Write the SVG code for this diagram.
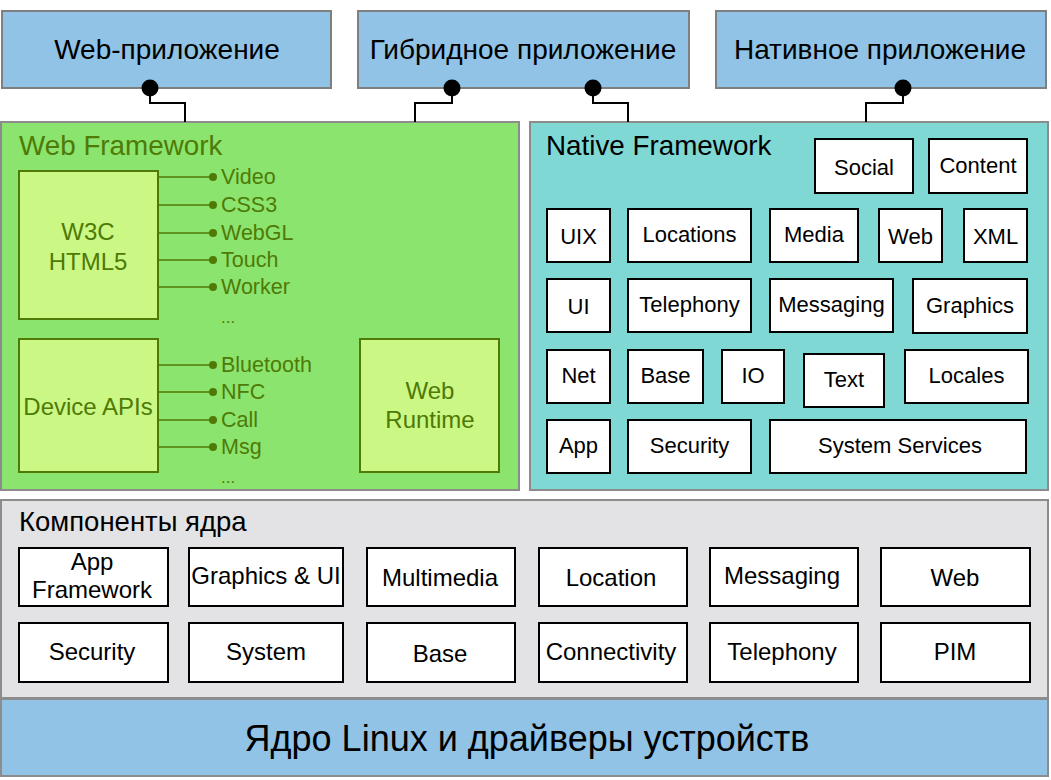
<svg xmlns="http://www.w3.org/2000/svg" width="1051" height="780" viewBox="0 0 1051 780">
<style>
text{font-family:"Liberation Sans",Arial,sans-serif;fill:#000}
.app{fill:#90c3e6;stroke:#7f7f7f;stroke-width:2}
.apptxt{font-size:28px;text-anchor:middle}
.wf{fill:#8ae46d;stroke:#8c8c8c;stroke-width:2}
.nf{fill:#7fd8d3;stroke:#8c8c8c;stroke-width:2}
.kc{fill:#e3e3e5;stroke:#8c8c8c;stroke-width:2}
.lx{fill:#90c3e6;stroke:#8c8c8c;stroke-width:2}
.gbox{fill:#cbf784;stroke:#4f7a06;stroke-width:2}
.gtxt{fill:#4f7a06;font-size:24px;text-anchor:middle}
.glab{fill:#4f7a06;font-size:21.5px}
.gline{stroke:#4f7a06;stroke-width:1.5;fill:none}
.gdot{fill:#4f7a06}
.title{font-size:27.8px}
.wbox{fill:#fff;stroke:#000;stroke-width:2}
.ntxt{font-size:22px;text-anchor:middle}
.ktxt{font-size:24px;text-anchor:middle}
.conn{stroke:#000;stroke-width:2;fill:none}
</style>

<g id="web-app"><rect class="app" x="2" y="11" width="329" height="77"/><text class="apptxt" x="167" y="59">Web-приложение</text></g>
<g id="hybrid-app"><rect class="app" x="358" y="11" width="331" height="77"/><text class="apptxt" x="523" y="59">Гибридное приложение</text></g>
<g id="native-app"><rect class="app" x="716" y="11" width="330" height="77"/><text class="apptxt" x="880" y="59">Нативное приложение</text></g>

<g id="web-framework">
<rect class="wf" x="1" y="122" width="518" height="368"/>
<text class="title" x="19" y="155" style="fill:#4f7a06">Web Framework</text>
</g>
<g id="w3c-html5"><rect class="gbox" x="19" y="171" width="139" height="148"/><text class="gtxt" x="88" y="240">W3C</text><text class="gtxt" x="88" y="270">HTML5</text></g>
<g id="html5-features">
<path class="gline" d="M158 177H213M158 205H213M158 233H213M158 260H213M158 287H213"/>
<circle class="gdot" cx="213" cy="177" r="4"/><circle class="gdot" cx="213" cy="205" r="4"/><circle class="gdot" cx="213" cy="233" r="4"/><circle class="gdot" cx="213" cy="260" r="4"/><circle class="gdot" cx="213" cy="287" r="4"/>
<text class="glab" x="221" y="184">Video</text><text class="glab" x="221" y="212">CSS3</text><text class="glab" x="221" y="240">WebGL</text><text class="glab" x="221" y="267">Touch</text><text class="glab" x="221" y="294">Worker</text><text class="glab" x="221" y="323" style="font-size:17px">...</text>
</g>
<g id="device-apis"><rect class="gbox" x="19" y="339" width="139" height="133"/><text class="gtxt" x="88" y="415">Device APIs</text></g>
<g id="device-features">
<path class="gline" d="M158 365H213M158 392H213M158 420H213M158 447H213"/>
<circle class="gdot" cx="213" cy="365" r="4"/><circle class="gdot" cx="213" cy="392" r="4"/><circle class="gdot" cx="213" cy="420" r="4"/><circle class="gdot" cx="213" cy="447" r="4"/>
<text class="glab" x="221" y="372">Bluetooth</text><text class="glab" x="221" y="399">NFC</text><text class="glab" x="221" y="427">Call</text><text class="glab" x="221" y="454">Msg</text><text class="glab" x="221" y="483" style="font-size:17px">...</text>
</g>
<g id="web-runtime"><rect class="gbox" x="360" y="339" width="139" height="133"/><text class="gtxt" x="430" y="399">Web</text><text class="gtxt" x="430" y="428">Runtime</text></g>

<g id="native-framework">
<rect class="nf" x="530" y="122" width="518" height="368"/>
<text class="title" x="546" y="155">Native Framework</text>
</g>
<g id="n-social"><rect class="wbox" x="815" y="139" width="98" height="54"/><text class="ntxt" x="864" y="175">Social</text></g>
<g id="n-content"><rect class="wbox" x="929" y="139" width="98" height="54"/><text class="ntxt" x="978" y="173">Content</text></g>
<g id="n-uix"><rect class="wbox" x="547" y="209" width="63" height="53"/><text class="ntxt" x="578.5" y="244">UIX</text></g>
<g id="n-locations"><rect class="wbox" x="628" y="209" width="123" height="53"/><text class="ntxt" x="689.5" y="242">Locations</text></g>
<g id="n-media"><rect class="wbox" x="770" y="209" width="88" height="53"/><text class="ntxt" x="814" y="242">Media</text></g>
<g id="n-web"><rect class="wbox" x="879" y="209" width="63" height="53"/><text class="ntxt" x="910.5" y="244">Web</text></g>
<g id="n-xml"><rect class="wbox" x="964" y="209" width="63" height="53"/><text class="ntxt" x="995.5" y="244">XML</text></g>
<g id="n-ui"><rect class="wbox" x="547" y="279" width="63" height="53"/><text class="ntxt" x="578.5" y="314">UI</text></g>
<g id="n-telephony"><rect class="wbox" x="628" y="279" width="123" height="53"/><text class="ntxt" x="689.5" y="312">Telephony</text></g>
<g id="n-messaging"><rect class="wbox" x="770" y="279" width="123" height="53"/><text class="ntxt" x="831.5" y="312">Messaging</text></g>
<g id="n-graphics"><rect class="wbox" x="913" y="279" width="114" height="54"/><text class="ntxt" x="970" y="313">Graphics</text></g>
<g id="n-net"><rect class="wbox" x="547" y="350" width="63" height="53"/><text class="ntxt" x="578.5" y="383">Net</text></g>
<g id="n-base"><rect class="wbox" x="628" y="350" width="75" height="53"/><text class="ntxt" x="665.5" y="383">Base</text></g>
<g id="n-io"><rect class="wbox" x="722" y="350" width="62" height="53"/><text class="ntxt" x="753" y="383">IO</text></g>
<g id="n-text"><rect class="wbox" x="804" y="354" width="80" height="53"/><text class="ntxt" x="844" y="387">Text</text></g>
<g id="n-locales"><rect class="wbox" x="905" y="350" width="123" height="53"/><text class="ntxt" x="966.5" y="383">Locales</text></g>
<g id="n-app"><rect class="wbox" x="547" y="420" width="63" height="53"/><text class="ntxt" x="578.5" y="453">App</text></g>
<g id="n-security"><rect class="wbox" x="628" y="420" width="123" height="53"/><text class="ntxt" x="689.5" y="453">Security</text></g>
<g id="n-system-services"><rect class="wbox" x="770" y="420" width="256" height="53"/><text class="ntxt" x="900" y="453">System Services</text></g>

<g id="kernel-components">
<rect class="kc" x="1" y="500" width="1047" height="198"/>
<text x="19" y="531" style="font-size:27.5px">Компоненты ядра</text>
</g>
<g id="k-app-framework"><rect class="wbox" x="19" y="548" width="149" height="58"/><text class="ktxt" x="92" y="570">App</text><text class="ktxt" x="92" y="598">Framework</text></g>
<g id="k-graphics-ui"><rect class="wbox" x="189" y="548" width="154" height="58"/><text class="ktxt" x="266" y="584">Graphics &amp; UI</text></g>
<g id="k-multimedia"><rect class="wbox" x="367" y="548" width="148" height="58"/><text class="ktxt" x="440" y="586">Multimedia</text></g>
<g id="k-location"><rect class="wbox" x="539" y="548" width="148" height="58"/><text class="ktxt" x="611" y="586">Location</text></g>
<g id="k-messaging"><rect class="wbox" x="710" y="548" width="148" height="58"/><text class="ktxt" x="782" y="584">Messaging</text></g>
<g id="k-web"><rect class="wbox" x="881" y="548" width="149" height="58"/><text class="ktxt" x="955" y="586">Web</text></g>
<g id="k-security"><rect class="wbox" x="19" y="623" width="149" height="59"/><text class="ktxt" x="92" y="660">Security</text></g>
<g id="k-system"><rect class="wbox" x="189" y="623" width="154" height="59"/><text class="ktxt" x="266" y="660">System</text></g>
<g id="k-base"><rect class="wbox" x="367" y="623" width="148" height="59"/><text class="ktxt" x="440" y="662">Base</text></g>
<g id="k-connectivity"><rect class="wbox" x="539" y="623" width="148" height="59"/><text class="ktxt" x="611" y="660">Connectivity</text></g>
<g id="k-telephony"><rect class="wbox" x="710" y="623" width="148" height="59"/><text class="ktxt" x="782" y="660">Telephony</text></g>
<g id="k-pim"><rect class="wbox" x="881" y="623" width="149" height="59"/><text class="ktxt" x="955" y="660">PIM</text></g>

<g id="linux-kernel"><rect class="lx" x="1" y="699" width="1047" height="77"/><text x="527" y="751" style="font-size:36px;text-anchor:middle">Ядро Linux и драйверы устройств</text></g>

<g id="connectors">
<path class="conn" d="M150 88V103H185V122"/>
<path class="conn" d="M452 88V103H415V122"/>
<path class="conn" d="M593 88V103H628V122"/>
<path class="conn" d="M903 88V103H866V122"/>
<circle cx="150" cy="88" r="8.5"/>
<circle cx="452" cy="88" r="8.5"/>
<circle cx="593" cy="88" r="8.5"/>
<circle cx="903" cy="88" r="8.5"/>
</g>
</svg>
